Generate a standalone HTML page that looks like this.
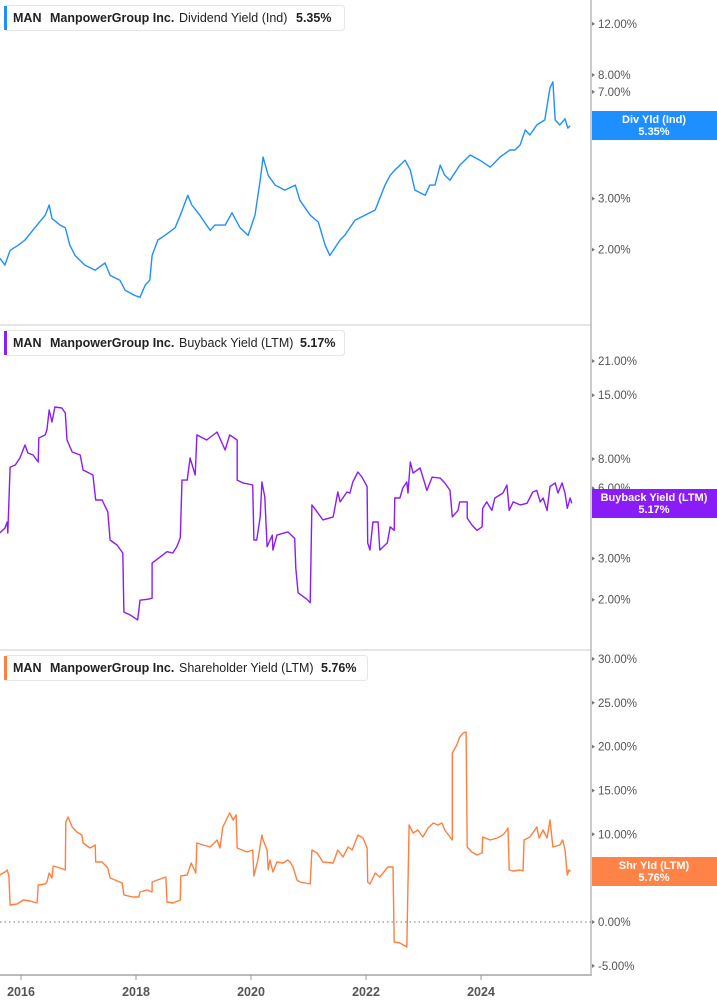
<!DOCTYPE html>
<html><head><meta charset="utf-8">
<style>
body{margin:0;background:#fff;font-family:"Liberation Sans",sans-serif;}
svg{display:block}
.tick{font-size:11.5px;fill:#555}
.leg{font-size:12.5px;font-weight:bold;fill:#222}
.xl{font-size:12.5px;font-weight:bold;fill:#555}
.tag{font-size:11px;font-weight:bold;fill:#fff}
</style></head><body>
<svg id="c" width="717" height="1005" viewBox="0 0 717 1005">
<g id="grid">
<line x1="0" y1="325" x2="591" y2="325" stroke="#ccc"/>
<line x1="0" y1="650" x2="591" y2="650" stroke="#ccc"/>
<line x1="0" y1="922" x2="591" y2="922" stroke="#777" stroke-dasharray="1.5,3"/>
<line x1="591" y1="0" x2="591" y2="976" stroke="#999"/>
<line x1="0" y1="975" x2="592" y2="975" stroke="#bbb" stroke-width="2"/>
</g>
<g id="marks"></g>
<g id="axes"></g>
<g>
<rect x="4.5" y="5.5" width="340" height="25" rx="3" fill="#fff" stroke="#e6e6e6"/>
<rect x="4" y="6" width="3" height="24" fill="#1e8fff"/>
<text x="13" y="22" class="leg">MAN</text><text x="50" y="22" class="leg">ManpowerGroup Inc.</text>
<text x="179" y="22" class="leg" style="font-weight:normal">Dividend Yield (Ind)</text><text x="296" y="22" class="leg">5.35%</text>
</g>
<g>
<rect x="4.5" y="330.5" width="340" height="25" rx="3" fill="#fff" stroke="#e6e6e6"/>
<rect x="4" y="331" width="3" height="24" fill="#8a1cf7"/>
<text x="13" y="347" class="leg">MAN</text><text x="50" y="347" class="leg">ManpowerGroup Inc.</text>
<text x="179" y="347" class="leg" style="font-weight:normal">Buyback Yield (LTM)</text><text x="300" y="347" class="leg">5.17%</text>
</g>
<g>
<rect x="4.5" y="655.5" width="363" height="25" rx="3" fill="#fff" stroke="#e6e6e6"/>
<rect x="4" y="656" width="3" height="24" fill="#ff7f3f"/>
<text x="13" y="672" class="leg">MAN</text><text x="50" y="672" class="leg">ManpowerGroup Inc.</text>
<text x="179" y="672" class="leg" style="font-weight:normal">Shareholder Yield (LTM)</text><text x="321" y="672" class="leg">5.76%</text>
</g>
<g><rect x="592" y="111" width="125" height="29" fill="#1e8fff"/><text x="654" y="123" text-anchor="middle" class="tag">Div Yld (Ind)</text><text x="654" y="135" text-anchor="middle" class="tag">5.35%</text></g>
<g><rect x="592" y="489" width="125" height="29" fill="#8a1cf7"/><text x="654" y="501" text-anchor="middle" class="tag">Buyback Yield (LTM)</text><text x="654" y="513" text-anchor="middle" class="tag">5.17%</text></g>
<g><rect x="592" y="857" width="125" height="29" fill="#ff8346"/><text x="654" y="869" text-anchor="middle" class="tag">Shr Yld (LTM)</text><text x="654" y="881" text-anchor="middle" class="tag">5.76%</text></g>
</svg>
<script>
const divDates=[2015.63,2015.72,2015.81,2015.95,2016.07,2016.24,2016.42,2016.49,2016.54,2016.68,2016.77,2016.85,2016.94,2017.11,2017.29,2017.46,2017.55,2017.72,2017.81,2017.98,2018.07,2018.16,2018.24,2018.28,2018.38,2018.50,2018.68,2018.77,2018.90,2018.97,2019.11,2019.29,2019.37,2019.55,2019.67,2019.81,2019.95,2020.07,2020.16,2020.21,2020.30,2020.42,2020.59,2020.77,2020.85,2021.03,2021.17,2021.29,2021.37,2021.55,2021.63,2021.81,2021.98,2022.16,2022.33,2022.42,2022.50,2022.68,2022.77,2022.85,2023.03,2023.11,2023.20,2023.29,2023.37,2023.46,2023.63,2023.72,2023.81,2023.98,2024.16,2024.33,2024.50,2024.59,2024.68,2024.77,2024.85,2024.97,2025.11,2025.20,2025.25,2025.29,2025.37,2025.46,2025.51,2025.55];
const divValues=[1.87,1.77,1.99,2.07,2.16,2.38,2.63,2.85,2.56,2.43,2.38,2.07,1.91,1.77,1.70,1.80,1.63,1.57,1.45,1.39,1.37,1.51,1.57,1.91,2.16,2.24,2.38,2.63,3.08,2.85,2.63,2.33,2.43,2.43,2.68,2.38,2.24,2.63,3.47,4.17,3.61,3.34,3.21,3.34,2.96,2.63,2.49,2.07,1.91,2.16,2.24,2.53,2.63,2.74,3.34,3.61,3.76,4.07,3.76,3.21,3.08,3.34,3.34,3.91,3.61,3.47,3.91,4.07,4.24,4.07,3.85,4.17,4.41,4.41,4.59,5.17,4.97,5.38,5.60,7.22,7.58,5.60,5.38,5.65,5.25,5.35];
const bbDates=[2015.63,2015.72,2015.76,2015.77,2015.81,2015.90,2015.98,2016.07,2016.12,2016.21,2016.30,2016.31,2016.42,2016.45,2016.49,2016.54,2016.59,2016.71,2016.77,2016.80,2016.89,2017.03,2017.08,2017.25,2017.30,2017.41,2017.51,2017.55,2017.67,2017.77,2017.79,2017.90,2018.03,2018.07,2018.21,2018.28,2018.28,2018.42,2018.54,2018.64,2018.71,2018.77,2018.80,2018.89,2018.94,2019.03,2019.06,2019.23,2019.41,2019.55,2019.63,2019.76,2019.76,2019.86,2020.03,2020.05,2020.10,2020.16,2020.19,2020.24,2020.28,2020.37,2020.38,2020.45,2020.64,2020.76,2020.78,2020.82,2020.97,2021.03,2021.06,2021.15,2021.25,2021.43,2021.51,2021.55,2021.67,2021.72,2021.77,2021.86,2021.93,2022.02,2022.03,2022.07,2022.12,2022.21,2022.24,2022.37,2022.42,2022.49,2022.50,2022.59,2022.64,2022.71,2022.73,2022.77,2022.82,2022.94,2022.99,2023.06,2023.15,2023.29,2023.37,2023.46,2023.50,2023.60,2023.63,2023.76,2023.76,2023.84,2023.93,2024.02,2024.03,2024.10,2024.19,2024.24,2024.38,2024.45,2024.49,2024.56,2024.68,2024.80,2024.90,2024.97,2025.03,2025.08,2025.15,2025.20,2025.29,2025.34,2025.41,2025.46,2025.50,2025.55,2025.58];
const bbValues=[3.86,4.05,4.30,3.86,7.39,7.54,8.08,9.18,8.49,8.32,7.77,9.84,10.14,10.65,12.97,11.52,13.35,13.22,12.59,9.65,8.57,8.32,7.18,6.83,5.34,5.34,4.75,3.60,3.43,3.17,1.77,1.72,1.64,1.99,2.01,2.03,2.87,3.05,3.21,3.17,3.37,3.68,6.50,6.50,8.08,6.83,10.14,9.65,10.44,8.74,10.14,9.65,6.50,6.32,6.19,3.60,3.60,4.52,6.38,5.50,3.37,3.78,3.26,3.78,3.90,3.66,2.73,2.14,2.01,1.94,5.09,4.75,4.39,4.52,5.78,5.24,5.78,5.72,6.38,7.04,6.69,6.10,3.50,3.26,4.30,4.30,3.26,3.50,4.10,3.96,5.45,5.45,6.01,6.38,5.72,7.77,6.96,7.32,6.69,5.87,6.69,6.63,6.32,5.87,4.52,4.82,5.24,5.24,4.47,4.18,3.96,4.10,4.92,5.24,4.82,5.45,5.72,6.19,4.82,5.24,5.09,5.17,5.78,5.87,5.24,5.45,4.82,6.10,6.32,5.72,6.32,5.72,4.92,5.45,5.17];
const shrDates=[2015.63,2015.72,2015.76,2015.79,2015.81,2015.93,2016.04,2016.16,2016.28,2016.30,2016.42,2016.45,2016.49,2016.54,2016.56,2016.68,2016.77,2016.78,2016.82,2016.89,2016.97,2017.06,2017.08,2017.20,2017.29,2017.30,2017.41,2017.51,2017.55,2017.76,2017.79,2017.95,2018.05,2018.07,2018.19,2018.28,2018.28,2018.42,2018.52,2018.54,2018.64,2018.77,2018.78,2018.89,2018.96,2019.04,2019.06,2019.17,2019.29,2019.41,2019.46,2019.51,2019.63,2019.69,2019.74,2019.76,2019.93,2020.03,2020.05,2020.12,2020.19,2020.21,2020.28,2020.30,2020.33,2020.38,2020.45,2020.56,2020.64,2020.68,2020.73,2020.80,2020.85,2021.03,2021.06,2021.15,2021.25,2021.43,2021.51,2021.60,2021.69,2021.76,2021.86,2021.95,2022.02,2022.03,2022.07,2022.16,2022.24,2022.38,2022.47,2022.49,2022.59,2022.71,2022.75,2022.82,2022.90,2022.99,2023.08,2023.17,2023.25,2023.32,2023.37,2023.50,2023.50,2023.58,2023.63,2023.69,2023.74,2023.76,2023.84,2023.93,2024.02,2024.03,2024.16,2024.28,2024.38,2024.45,2024.47,2024.49,2024.56,2024.68,2024.73,2024.75,2024.85,2024.97,2025.01,2025.08,2025.15,2025.20,2025.25,2025.37,2025.42,2025.46,2025.50,2025.53,2025.56];
const shrValues=[5.36,5.70,5.93,5.25,1.94,2.05,2.51,2.39,2.17,4.22,4.33,4.56,5.59,5.02,6.39,6.16,5.93,11.40,11.97,10.83,10.26,9.92,9.01,8.44,8.78,6.84,6.84,6.16,5.02,4.45,3.08,2.85,2.85,3.42,3.65,3.42,4.56,4.90,5.13,2.28,2.17,2.51,5.25,5.36,6.73,5.59,9.01,8.78,8.55,9.35,8.44,10.83,12.43,11.63,12.20,8.44,7.98,8.21,5.25,7.07,9.92,9.35,8.21,5.93,7.07,5.70,6.84,6.73,7.07,6.84,6.27,4.79,4.56,4.33,8.21,7.87,6.84,6.73,8.21,7.41,8.55,8.21,9.92,9.58,8.44,4.56,4.33,5.59,5.13,6.27,6.27,-2.28,-2.39,-2.85,11.06,10.15,10.49,9.69,10.72,11.29,11.06,11.29,10.49,9.35,19.27,20.18,21.09,21.55,21.66,8.55,7.98,7.64,7.87,9.69,9.35,9.58,9.92,10.49,10.72,5.93,5.82,5.93,5.82,9.35,9.69,10.83,9.58,10.49,9.58,11.63,8.55,8.78,9.35,8.21,5.36,5.93,5.76];
const divTicks=[12,8,7,5,3,2];
const bbTicks=[21,15,8,6,3,2];
const shrTicks=[30,25,20,15,10,5,0,-5];
const yearTicks=[2016,2018,2020,2022,2024];

const NS="http://www.w3.org/2000/svg";
const xS=t=>21+(t-2016)*57.5;
const y1=v=>75-126*Math.log(v/8);
const y2=v=>459-101.5*Math.log(v/8);
const y3=v=>922-8.77*v;
const marks=document.getElementById('marks'), axes=document.getElementById('axes');
function line(dates,vals,ys,color,name){
  const p=document.createElementNS(NS,'polyline');
  p.setAttribute('points',dates.map((d,i)=>xS(d).toFixed(1)+','+ys(vals[i]).toFixed(1)).join(' '));
  p.setAttribute('fill','none');p.setAttribute('stroke',color);p.setAttribute('stroke-width','1.4');p.setAttribute('stroke-linejoin','round');
  
  
  marks.appendChild(p);
}
line(divDates,divValues,y1,'#1e8fff','dividend-yield-line');
line(bbDates,bbValues,y2,'#8a1cf7','buyback-yield-line');
line(shrDates,shrValues,y3,'#ff7f3f','shareholder-yield-line');
function ticks(arr,ys){
  arr.forEach(v=>{
    const y=ys(v);
    const tr=document.createElementNS(NS,'path');
    tr.setAttribute('d',`M592 ${y-2}L595 ${y}L592 ${y+2}Z`);tr.setAttribute('fill','#777');
    
    
    axes.appendChild(tr);
    const t=document.createElementNS(NS,'text');
    t.setAttribute('x',598);t.setAttribute('y',y+4);t.setAttribute('class','tick');
    t.textContent=v.toFixed(2)+'%';
    
    
    axes.appendChild(t);
  });
}
ticks(divTicks,y1);ticks(bbTicks,y2);ticks(shrTicks,y3);
yearTicks.forEach(yr=>{
  const x=xS(yr);
  const l=document.createElementNS(NS,'line');
  l.setAttribute('x1',x);l.setAttribute('x2',x);l.setAttribute('y1',975);l.setAttribute('y2',980);l.setAttribute('stroke','#999');
  
  
  axes.appendChild(l);
  const t=document.createElementNS(NS,'text');
  t.setAttribute('x',x);t.setAttribute('y',996);t.setAttribute('text-anchor','middle');t.setAttribute('class','xl');
  t.textContent=yr;
  
  
  axes.appendChild(t);
});
</script>
</body></html>
